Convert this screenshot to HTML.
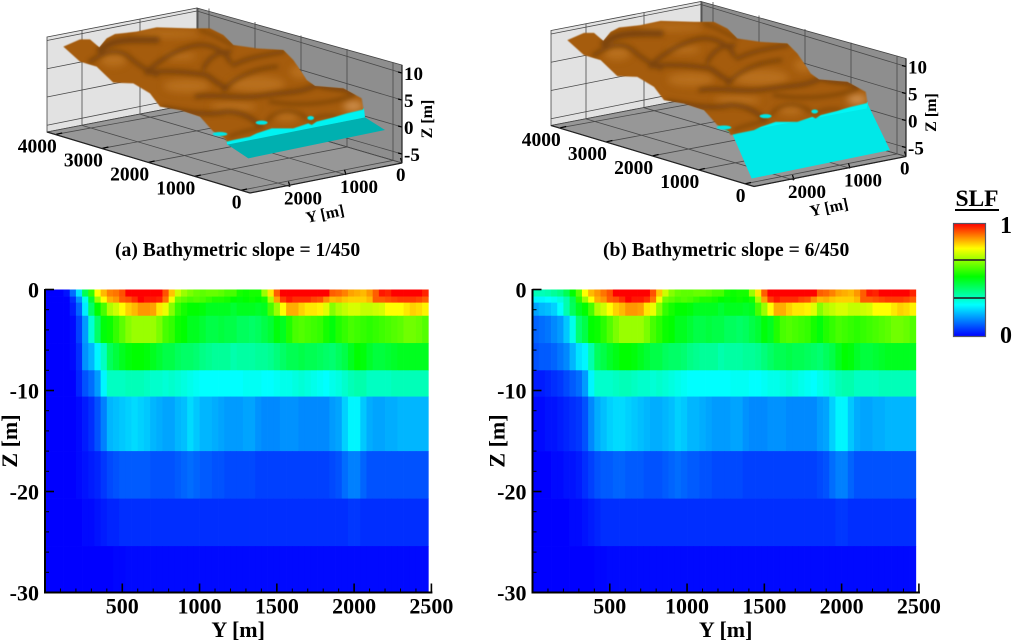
<!DOCTYPE html>
<html>
<head>
<meta charset="utf-8">
<title>Bathymetric slope comparison</title>
<style>
html,body{margin:0;padding:0;background:#fff;}
svg{display:block;}
text{font-family:"Liberation Serif",serif;font-weight:bold;fill:#000;}
</style>
</head>
<body>
<svg id="fig" xmlns="http://www.w3.org/2000/svg" width="1012" height="641" viewBox="0 0 1012 641">
  <defs>
    <filter id="b4" x="-30%" y="-30%" width="160%" height="160%"><feGaussianBlur stdDeviation="7"/></filter>
    <filter id="b8" x="-30%" y="-30%" width="160%" height="160%"><feGaussianBlur stdDeviation="11"/></filter>
    <filter id="b1" x="-30%" y="-30%" width="160%" height="160%"><feGaussianBlur stdDeviation="1.5"/></filter>
    <clipPath id="terrain-clip">
      <path d="M190 140 L240 118 L270 118 L298 142 L320 115 L345 102 L410 95 L470 82 L570 85 L630 85 L670 105 L700 135 L770 145 L850 150 L880 180 L920 240 L945 258 L1030 265 L1085 295 L1090 328 L1040 340 L1000 352 L950 365 L935 375 L925 370 L880 385 L815 385 L770 400 L750 410 L700 420 L680 425 L675 415 L640 395 L600 350 L540 330 L480 320 L450 280 L400 250 L340 248 L290 200 L240 185 Z"/>
    </clipPath>
    <g id="terrain">
      <path fill="#a55c10" filter="url(#b1)" d="M190 140 L240 118 L270 118 L298 142 L320 115 L345 102 L410 95 L470 82 L570 85 L630 85 L670 105 L700 135 L770 145 L850 150 L880 180 L920 240 L945 258 L1030 265 L1085 295 L1090 328 L1040 340 L1000 352 L950 365 L935 375 L925 370 L880 385 L815 385 L770 400 L750 410 L700 420 L680 425 L675 415 L640 395 L600 350 L540 330 L480 320 L450 280 L400 250 L340 248 L290 200 L240 185 Z"/>
      <g clip-path="url(#terrain-clip)">
        <g filter="url(#b8)" fill="#bd7424" opacity="0.8">
          <ellipse cx="340" cy="178" rx="40" ry="22"/>
          <ellipse cx="540" cy="168" rx="50" ry="12"/>
          <ellipse cx="770" cy="252" rx="85" ry="24"/>
          <ellipse cx="560" cy="258" rx="70" ry="20"/>
          <ellipse cx="700" cy="320" rx="70" ry="14"/>
          <ellipse cx="860" cy="350" rx="35" ry="15"/>
          <ellipse cx="500" cy="102" rx="100" ry="10"/>
          <ellipse cx="900" cy="215" rx="30" ry="20"/>
          <ellipse cx="1060" cy="318" rx="30" ry="16" fill="#d69a5c"/>
        </g>
        <g filter="url(#b4)" fill="none" stroke="#6b3a07" stroke-linecap="round" opacity="0.72">
          <path stroke-width="20" d="M300 150 C330 120 380 118 470 120"/>
          <path stroke-width="13" d="M440 215 C480 180 530 145 590 135 C640 130 680 160 690 185"/>
          <path stroke-width="14" d="M440 218 C500 210 560 215 620 225 C640 240 660 255 680 265"/>
          <path stroke-width="12" d="M610 205 C625 175 650 155 690 155"/>
          <path stroke-width="11" d="M670 270 C700 235 760 205 830 200"/>
          <path stroke-width="12" d="M700 195 C750 170 800 165 850 155"/>
          <path stroke-width="14" d="M590 290 C640 280 720 300 800 285 C860 275 900 280 950 255 C980 265 1020 265 1060 275"/>
          <path stroke-width="14" d="M490 325 C540 330 610 350 680 335 C720 335 750 350 780 375"/>
          <path stroke-width="8" d="M800 365 C820 335 870 315 920 355"/>
          <path stroke-width="8" d="M690 410 C720 395 760 390 790 380"/>
          <path stroke-width="12" d="M270 185 C300 165 340 140 380 165 C420 200 450 215 470 225"/>
          <path stroke-width="8" d="M600 90 C640 100 680 130 700 135"/>
          <path stroke-width="9" d="M810 305 C900 320 1000 310 1060 285"/>
          <path stroke-width="7" d="M930 365 C950 345 990 345 1010 350"/>
        </g>
      </g>
      <g fill="#00e6e6" filter="url(#b1)">
        <ellipse cx="785" cy="368" rx="18" ry="6"/>
        <ellipse cx="660" cy="402" rx="22" ry="6"/>
        <ellipse cx="932" cy="354" rx="10" ry="6"/>
      </g>
    </g>
  </defs>
  <g id="panel-a-3d"></g>
  <g id="panel-b-3d" transform="translate(504,-6.5)"></g>
  <g id="heat-a"></g>
  <g id="heat-b"></g>

  <text x="115" y="256" font-size="19.6">(a) Bathymetric slope = 1/450</text>
  <text x="603" y="256" font-size="19.6">(b) Bathymetric slope = 6/450</text>

  <g>
    <text x="977" y="206" font-size="23.5" text-anchor="middle">SLF</text>
    <rect x="955" y="209" width="44" height="2" fill="#000"/>
    <rect id="legend-bar" x="953.5" y="223.5" width="32" height="113" stroke="#556" stroke-width="1.2"/>
    <rect x="954" y="259.2" width="31" height="1.6" fill="#222"/>
    <rect x="954" y="297.2" width="31" height="1.6" fill="#222"/>
    <text x="1006" y="233" font-size="24" text-anchor="middle">1</text>
    <text x="1006" y="343" font-size="24" text-anchor="middle">0</text>
  </g>
</svg>
<script>
// ---- Heatmap data: SLF per depth layer (rows) and Y cell (columns) ----
const zEdges = [0,-0.7,-1.3,-2.6,-5.3,-8,-10.6,-16,-20.7,-25.4,-30];
const yCellSize = [40];
const zTicksMajor = [0,-10,-20,-30];
const zTicksMinor = [-2,-4,-6,-8,-12,-14,-16,-18,-22,-24,-26,-28];
const yTicksMajor = [500,1000,1500,2000,2500];
const yTicksMinor = [100,200,300,400,600,700,800,900,1100,1200,1300,1400,1600,1700,1800,1900,2100,2200,2300,2400];
const slfA = [
[0,0,0,.02,.12,.25,.45,.58,.78,.84,.89,.9,.93,1,1,1,1,1,1,.93,.83,.73,.68,.65,.63,.62,.63,.63,.62,.6,.6,.55,.54,.55,.55,.68,.8,.92,1,1,1,1,1,1,1,1,.92,.91,.89,.86,.85,.84,.87,.92,.98,.97,1,1,1,1,1,.97],
[0,0,0,0,.05,.16,.3,.48,.68,.78,.85,.87,.92,.93,.96,1,.98,.98,.97,.9,.77,.64,.62,.6,.61,.6,.58,.56,.56,.55,.53,.52,.53,.54,.53,.55,.7,.86,.95,.98,.96,.96,.96,.94,.93,.88,.84,.85,.83,.82,.82,.82,.84,.92,.92,.93,.94,.95,.95,.95,.94,.92],
[0,0,0,0,.03,.11,.26,.43,.53,.6,.7,.73,.78,.82,.84,.87,.87,.86,.8,.76,.66,.58,.55,.53,.53,.52,.5,.5,.5,.5,.48,.5,.5,.5,.49,.5,.6,.68,.78,.85,.85,.82,.8,.8,.79,.75,.66,.7,.72,.74,.74,.72,.72,.73,.74,.78,.78,.78,.8,.82,.81,.79],
[0,0,0,0,.01,.07,.17,.32,.43,.52,.54,.58,.62,.66,.68,.68,.68,.68,.65,.6,.58,.54,.53,.5,.5,.48,.46,.46,.47,.46,.46,.44,.44,.43,.44,.46,.48,.52,.5,.56,.6,.61,.6,.59,.58,.55,.52,.56,.58,.6,.59,.58,.57,.58,.59,.6,.61,.62,.64,.64,.63,.61],
[0,0,0,0,.01,.05,.16,.2,.27,.34,.44,.47,.5,.52,.53,.53,.52,.5,.48,.46,.46,.44,.43,.43,.42,.4,.39,.38,.38,.38,.36,.37,.37,.37,.38,.38,.39,.41,.43,.45,.45,.46,.45,.45,.44,.43,.42,.44,.46,.5,.53,.52,.49,.47,.47,.48,.49,.5,.5,.5,.5,.5],
[0,0,0,0,0,.04,.09,.12,.17,.27,.34,.34,.34,.35,.35,.35,.34,.33,.33,.32,.33,.32,.31,.3,.29,.28,.28,.28,.28,.28,.28,.28,.29,.29,.29,.28,.28,.29,.3,.3,.31,.32,.31,.3,.29,.28,.3,.31,.33,.35,.36,.36,.34,.34,.34,.34,.35,.35,.35,.35,.35,.35],
[0,0,0,0,0,.01,.03,.05,.09,.14,.2,.21,.22,.23,.24,.23,.22,.2,.19,.18,.18,.2,.21,.24,.22,.2,.2,.19,.18,.17,.17,.17,.18,.18,.16,.15,.15,.15,.16,.16,.16,.15,.15,.15,.15,.15,.17,.18,.23,.27,.27,.22,.19,.18,.18,.19,.19,.2,.2,.2,.2,.2],
[0,0,0,0,0,.01,.02,.03,.04,.06,.08,.09,.1,.1,.1,.1,.1,.09,.09,.09,.09,.1,.11,.12,.11,.1,.1,.09,.09,.08,.08,.08,.08,.08,.07,.07,.07,.07,.07,.07,.07,.07,.07,.07,.07,.07,.08,.09,.12,.14,.14,.11,.09,.09,.09,.09,.09,.09,.09,.09,.09,.09],
[0,0,0,0,0,0,.01,.01,.02,.03,.04,.04,.05,.05,.05,.05,.05,.05,.05,.05,.05,.05,.05,.05,.05,.05,.05,.05,.05,.05,.05,.05,.05,.05,.05,.05,.05,.05,.05,.05,.05,.05,.05,.05,.05,.05,.05,.05,.05,.06,.06,.05,.05,.05,.05,.05,.05,.05,.05,.05,.05,.05],
[0,0,0,0,0,0,0,0,0,0,0,.005,.005,.01,.01,.01,.01,.01,.01,.01,.01,.01,.01,.01,.01,.01,.01,.01,.01,.01,.01,.01,.01,.01,.01,.01,.01,.01,.01,.01,.01,.01,.01,.01,.01,.01,.01,.01,.01,.01,.01,.01,.01,.01,.01,.01,.01,.01,.01,.01,.01,.01]
];
const slfB = [
[.35,.35,.36,.38,.4,.45,.53,.62,.78,.84,.87,.9,.93,1,1,1,1,1,1,.93,.83,.73,.66,.63,.62,.62,.63,.63,.62,.6,.6,.55,.54,.55,.55,.68,.8,.92,1,1,1,1,1,1,1,1,.92,.91,.89,.86,.85,.84,.87,.92,.98,.97,1,1,1,1,1,.97],
[.27,.27,.28,.29,.31,.36,.45,.57,.68,.78,.85,.87,.92,.93,.96,1,.98,.98,.96,.9,.77,.64,.62,.6,.61,.6,.58,.56,.56,.55,.53,.52,.53,.54,.53,.55,.7,.86,.95,.98,.96,.96,.96,.94,.93,.88,.84,.85,.83,.82,.82,.82,.84,.92,.92,.93,.94,.95,.95,.95,.94,.92],
[.18,.2,.21,.23,.28,.36,.44,.5,.53,.6,.7,.73,.78,.82,.84,.87,.87,.86,.8,.76,.66,.58,.55,.53,.53,.52,.5,.5,.5,.5,.48,.5,.5,.5,.49,.5,.6,.68,.78,.85,.85,.82,.8,.8,.79,.75,.66,.7,.72,.74,.74,.72,.72,.73,.74,.78,.78,.78,.8,.82,.81,.79],
[.11,.12,.13,.15,.17,.22,.3,.42,.46,.53,.54,.57,.61,.65,.68,.68,.68,.68,.65,.6,.57,.54,.53,.5,.5,.48,.46,.46,.47,.46,.46,.44,.44,.43,.44,.46,.48,.52,.5,.56,.6,.61,.6,.59,.58,.55,.52,.56,.58,.6,.59,.58,.57,.58,.59,.6,.61,.62,.64,.64,.63,.61],
[.09,.1,.1,.11,.13,.15,.2,.25,.27,.36,.44,.46,.49,.51,.53,.53,.52,.5,.48,.46,.46,.44,.43,.43,.42,.4,.39,.38,.38,.38,.36,.37,.37,.37,.38,.38,.39,.41,.43,.45,.45,.46,.45,.45,.44,.43,.42,.44,.46,.5,.53,.52,.49,.47,.47,.48,.49,.5,.5,.5,.5,.5],
[.03,.03,.04,.05,.06,.08,.1,.12,.17,.27,.33,.33,.33,.34,.35,.35,.34,.33,.33,.32,.33,.32,.31,.3,.29,.28,.28,.28,.28,.28,.28,.28,.29,.29,.29,.28,.28,.29,.3,.3,.31,.32,.31,.3,.29,.28,.3,.31,.33,.35,.36,.36,.34,.34,.34,.34,.35,.35,.35,.35,.35,.35],
[.01,.01,.02,.02,.03,.04,.05,.06,.09,.15,.19,.21,.23,.24,.24,.23,.22,.21,.2,.19,.19,.2,.21,.23,.22,.2,.2,.19,.18,.17,.17,.17,.18,.18,.16,.15,.15,.15,.16,.16,.16,.15,.15,.15,.15,.15,.17,.18,.23,.27,.27,.22,.19,.18,.18,.19,.19,.2,.2,.2,.2,.2],
[0,0,0,.01,.01,.02,.02,.03,.05,.07,.09,.1,.1,.11,.11,.1,.1,.1,.09,.09,.09,.1,.11,.12,.11,.1,.1,.09,.09,.08,.08,.08,.08,.08,.07,.07,.07,.07,.07,.07,.07,.07,.07,.07,.07,.07,.08,.09,.12,.14,.14,.11,.09,.09,.09,.09,.09,.09,.09,.09,.09,.09],
[0,0,0,0,0,0,.01,.01,.02,.03,.04,.05,.05,.05,.05,.05,.05,.05,.05,.05,.05,.05,.05,.05,.05,.05,.05,.05,.05,.05,.05,.05,.05,.05,.05,.05,.05,.05,.05,.05,.05,.05,.05,.05,.05,.05,.05,.05,.05,.06,.06,.05,.05,.05,.05,.05,.05,.05,.05,.05,.05,.05],
[0,0,0,0,0,0,0,0,0,0,.005,.005,.01,.01,.01,.01,.01,.01,.01,.01,.01,.01,.01,.01,.01,.01,.01,.01,.01,.01,.01,.01,.01,.01,.01,.01,.01,.01,.01,.01,.01,.01,.01,.01,.01,.01,.01,.01,.01,.01,.01,.01,.01,.01,.01,.01,.01,.01,.01,.01,.01,.01]
];
// ---- 3D axis tick values ----
const xTicks3d = [0,1000,2000,3000,4000];
const yTicks3d = [0,1000,2000];
const zTicks3d = [10,5,0,-5];

const NS = 'http://www.w3.org/2000/svg';
function make(parent, tag, attrs, content) {
  const el = document.createElementNS(NS, tag);
  for (const k in attrs) el.setAttribute(k, attrs[k]);
  if (content !== undefined) el.textContent = content;
  parent.appendChild(el);
  return el;
}

// Colour scale
const colorStops = [[0,[0,0,255]],[.28,[0,255,255]],[.53,[0,255,0]],[.78,[255,255,0]],[1,[255,0,0]]];
function slfColor(v) {
  v = Math.max(0, Math.min(1, v));
  for (let i = 1; i < colorStops.length; i++) {
    if (v <= colorStops[i][0]) {
      const a = colorStops[i-1], b = colorStops[i];
      const t = (v - a[0]) / (b[0] - a[0]);
      return 'rgb(' + a[1].map((c, j) => Math.round(c + (b[1][j] - c) * t)).join(',') + ')';
    }
  }
  return 'rgb(255,0,0)';
}

// Legend gradient
const defs = document.querySelector('defs');
const grad = make(defs, 'linearGradient', {id:'slf-grad', x1:0, y1:1, x2:0, y2:0});
colorStops.forEach(s => make(grad, 'stop', {offset:s[0], 'stop-color':'rgb(' + s[1].join(',') + ')'}));
document.getElementById('legend-bar').setAttribute('fill', 'url(#slf-grad)');

// Heatmap panels
function drawHeat(groupId, rows, offset) {
  const g = document.getElementById(groupId);
  const xS = v => 45 + offset + v * 0.15456;
  const yS = v => 289.5 - v * 10.1;
  rows.forEach((row, r) => {
    row.forEach((val, c) => {
      const x0 = xS(c * yCellSize[0]), x1 = xS((c + 1) * yCellSize[0]);
      const y0 = yS(zEdges[r]), y1 = yS(zEdges[r + 1]);
      const cell = make(g, 'rect', {x:x0, y:y0, width:x1 - x0 + 0.35, height:y1 - y0 + 0.35, fill:slfColor(val)});
      
      
    });
  });
  const left = xS(0), right = xS(2500), bottom = yS(-30);
  const yAxis = make(g, 'line', {x1:left, y1:yS(0) - 0.5, x2:left, y2:bottom + 1, stroke:'#000', 'stroke-width':2});
  
  
  const xAxis = make(g, 'line', {x1:left - 1, y1:bottom, x2:right + 1, y2:bottom, stroke:'#000', 'stroke-width':2});
  
  
  zTicksMajor.forEach(v => {
    const t = make(g, 'line', {x1:left, x2:left + 9, y1:yS(v), y2:yS(v), stroke:'#000', 'stroke-width':1.6});
    
    
    const l = make(g, 'text', {x:left - 6, y:yS(v) + 8, 'font-size':22, 'text-anchor':'end'}, String(v));
    
    
  });
  zTicksMinor.forEach(v => {
    const t = make(g, 'line', {x1:left, x2:left + 4, y1:yS(v), y2:yS(v), stroke:'#000', 'stroke-width':1});
    
    
  });
  yTicksMajor.forEach(v => {
    const t = make(g, 'line', {x1:xS(v), x2:xS(v), y1:bottom, y2:bottom - 9, stroke:'#000', 'stroke-width':1.6});
    
    
    const l = make(g, 'text', {x:xS(v), y:bottom + 21, 'font-size':22, 'text-anchor':'middle'}, String(v));
    
    
  });
  yTicksMinor.forEach(v => {
    const t = make(g, 'line', {x1:xS(v), x2:xS(v), y1:bottom, y2:bottom - 4, stroke:'#000', 'stroke-width':1});
    
    
  });
  const xt = make(g, 'text', {x:xS(1250), y:637, 'font-size':22, 'text-anchor':'middle'}, 'Y [m]');
  
  
  const yt = make(g, 'text', {transform:'translate(' + (17 + offset) + ',441) rotate(-90)', 'font-size':22, 'text-anchor':'middle'}, 'Z [m]');
  
  
}
drawHeat('heat-a', slfA, 0);
drawHeat('heat-b', slfB, 487.5);

// 3D box axis functions (image space)
const frontX = v => [241 - 0.0462 * v, 190.3 - 0.014 * v];        // X axis along front-left floor edge
const backX  = v => { const x = 393 - 0.046 * v; return [x, 103 + (x - 197) * 0.293]; };
const frontY = v => [402 - 0.056 * v, 163 + 0.0118 * v];          // Y axis along front-right floor edge
const sideY  = v => { const x = 198 - 0.058 * v; return [x, 103 + (198 - x) * 0.193]; };
const zRight = v => 127 - 5.4 * v;
const zBack  = v => 67 - 5.6 * v;
const zLeft  = v => 97 - 5.65 * v;

function drawBox(group, water) {
  const g = document.getElementById(group);
  const poly = (pts, fill, name) => {
    const p = make(g, 'polygon', {points:pts, fill:fill, stroke:'#444', 'stroke-width':0.8});
    
    
  };
  poly('47,37 197,8 197,103 47,132', '#e2e2e2', 'left-wall');
  poly('197,8 402,65 402,163 197,103', '#8e8e8e', 'back-wall');
  poly('47,132 197,103 402,163 250,193', '#979797', 'floor');
  const seg = (a, b, name, w, col) => {
    const l = make(g, 'line', {x1:a[0], y1:a[1], x2:b[0], y2:b[1], stroke:col || '#4a4a4a', 'stroke-width':w || 0.8});
    
    
  };
  zTicks3d.forEach(v => {
    seg([47, zLeft(v)], [197, zBack(v)], 'left-wall-gridline');
    seg([197, zBack(v)], [402, zRight(v)], 'back-wall-gridline');
    seg([402, zRight(v)], [398, zRight(v) - 1], 'z-tick', 1.2, '#000');
    const l = make(g, 'text', {x:404, y:zRight(v) + 7, 'font-size':19}, String(v));
    
    
  });
  xTicks3d.forEach(v => {
    const a = frontX(v), b = backX(v);
    seg(a, b, 'floor-gridline-x');
    seg([b[0], b[1]], [b[0], b[1] - 98], 'back-wall-vertical-gridline');
    seg(a, [a[0] + 6, a[1] - 1.3], 'x-tick', 1.2, '#000');
    const l = make(g, 'text', {x:a[0] + 0.5, y:a[1] + 18, 'font-size':19.5, 'text-anchor':'end'}, String(v));
    
    
  });
  yTicks3d.forEach(v => {
    const a = frontY(v), b = sideY(v);
    seg(a, b, 'floor-gridline-y');
    seg([b[0], b[1]], [b[0], b[1] - 95], 'left-wall-vertical-gridline');
    seg(a, [a[0] - 1.5, a[1] - 5], 'y-tick', 1.2, '#000');
    const l = make(g, 'text', {x:a[0] - 6, y:a[1] + 18, 'font-size':19}, String(v));
    
    
  });
  seg([47, 132], [250, 193], 'x-axis-edge', 1.2, '#222');
  seg([250, 193], [402, 163], 'y-axis-edge', 1.2, '#222');
  seg([402, 65], [402, 163], 'z-axis-edge', 1.2, '#222');
  const yt = make(g, 'text', {transform:'translate(326,219) rotate(-12)', 'font-size':16, 'text-anchor':'middle'}, 'Y [m]');
  
  
  const zt = make(g, 'text', {transform:'translate(432,119) rotate(-90)', 'font-size':16, 'text-anchor':'middle'}, 'Z [m]');
  
  
  const w = make(g, 'g', {transform:'scale(0.33333)'});
  
  
  water.forEach(s => make(w, 'path', {d:s[0], fill:s[1]}));
  const t = make(g, 'use', {href:'#terrain', transform:'scale(0.33333)'});
  
  
}
drawBox('panel-a-3d', [
  ['M680 432 L1095 352 L1155 390 L745 475 Z', '#00b0b0'],
  ['M640 395 L700 410 L800 362 L900 340 L1092 325 L1095 352 L682 434 L676 412 Z', '#00f2f2']
]);
drawBox('panel-b-3d', [
  ['M678 405 L1088 325 L1158 470 L743 555 Z', '#00e8e8'],
  ['M640 395 L760 350 L930 345 L1092 325 L1088 345 L680 420 Z', '#00f6f6']
]);
</script>
</body>
</html>
